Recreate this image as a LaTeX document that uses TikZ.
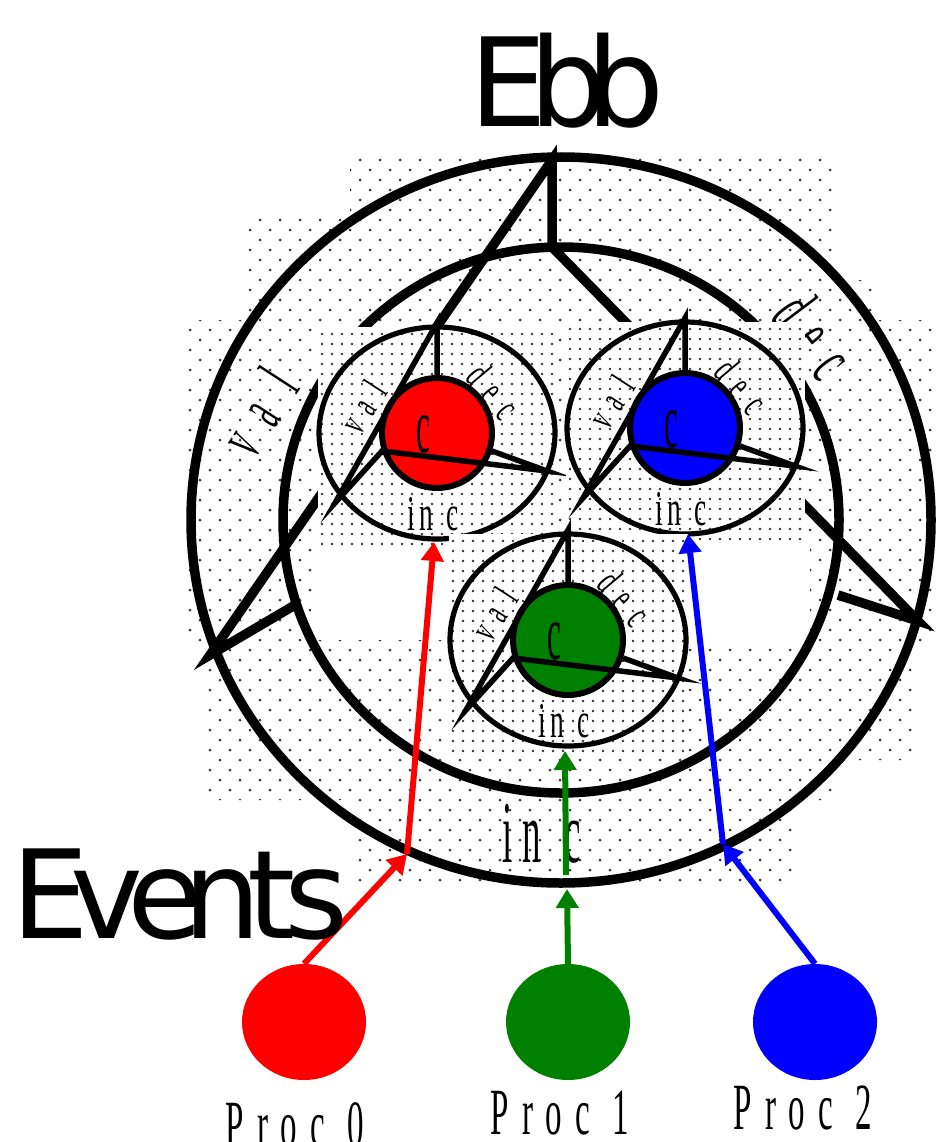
\documentclass[tikz,border=0pt]{standalone}
\usepackage{fontspec}
\setmainfont{Liberation Serif}
\newfontfamily\sansf{DejaVu Sans}
\usetikzlibrary{arrows.meta,shapes.geometric}

% staggered dot grid: x0,y0,x1,y1,dx,dy,r
\newcommand\dotgrid[7]{%
  \pgfmathtruncatemacro\dgrows{(#4-#2)/#6}%
  \pgfmathtruncatemacro\dgcols{(#3-#1)/#5}%
  \fill[dotc] \foreach \j in {0,...,\dgrows}{ \foreach \i in {0,...,\dgcols}{ ({#1+mod(\j,2)*#5/2+\i*#5},{#2+\j*#6}) circle[radius=#7] } };%
}
% square dot grid: x0,y0,x1,y1,d,r
\newcommand\dotsquare[6]{%
  \pgfmathtruncatemacro\dgrows{(#4-#2)/#5}%
  \pgfmathtruncatemacro\dgcols{(#3-#1)/#5}%
  \fill[dotc] \foreach \j in {0,...,\dgrows}{ \foreach \i in {0,...,\dgcols}{ ({#1+\i*#5},{#2+\j*#5}) circle[radius=#6] } };%
}

\tikzset{
  dotc/.style={fill=black!80},
  bigline/.style={line width=9.5pt},
  symline/.style={line width=5.5pt, line join=miter, miter limit=30},
  arr/.style={line width=6pt, -{Triangle[length=19pt,width=22pt]}},
  lbl/.style={inner sep=0pt, outer sep=0pt},
  procdot/.style={ellipse, minimum width=124pt, minimum height=116pt, inner sep=0pt, draw=none},
}

\newcommand\ebbsym[4]{%
\begin{scope}[shift={(#2,#3)}]
  \fill[white] (-119,-106) rectangle (120,114);
  \begin{scope}
    \clip (-119,-106) rectangle (120,114);
    \dotsquare{-115}{-99}{122}{116}{10}{1.35}
  \end{scope}
  \draw[line width=5.2pt] (0,0) ellipse[x radius=118, y radius=106];
  \draw[line width=6pt, fill=#4] (0,0) circle[radius=55];
  \draw[symline] (0,-55) -- (0,-110) -- (-102,70) -- (-55,18) -- (110,38) -- (55,18);
  \node[lbl, anchor=base] (#1c) at (-14,19) {\fontsize{78}{78}\selectfont\scalebox{0.4}[1]{c}};
  \node[lbl, anchor=base] (#1inc) at (-4,97) {\fontsize{50}{50}\selectfont\scalebox{0.55}[1]{i\hspace{9pt}n\hspace{24pt}c}};
  \node[lbl, rotate=57] (#1val) at (-74,-26) {\fontsize{40}{40}\selectfont\scalebox{0.55}[1]{v\hspace{21pt}a\hspace{25.5pt}l}};
  \node[lbl, rotate=-50] (#1dec) at (57,-42) {\fontsize{42}{42}\selectfont\scalebox{0.55}[1]{d\hspace{22pt}e\hspace{23pt}c}};
\end{scope}}

\begin{document}
\begin{tikzpicture}[x=1pt,y=-1pt]
\useasboundingbox (0,0) rectangle (938,1142);

% big dotted background
\begin{scope}[even odd rule]
  \clip (350,157) -- (835,157) -- (835,280) -- (873,280) -- (873,320) -- (938,320) -- (938,645) -- (917,645) -- (917,760) -- (833,760) -- (833,800) -- (793,800) -- (793,883) -- (352,883) -- (352,800) -- (208,800) -- (208,645) -- (188,645) -- (188,320) -- (248,320) -- (248,217) -- (350,217) -- cycle
    (313,545) rectangle (450,640)
    (688,535) rectangle (810,645);
  \dotgrid{180}{160}{945}{885}{20}{10}{1.5}
\end{scope}

% big symbol
\draw[bigline] (561,520) ellipse[x radius=370, y radius=363];
\draw[bigline] (561,520) ellipse[x radius=278, y radius=273];
\draw[bigline, line join=miter, miter limit=30] (295,605) -- (210,655) -- (552,160) -- (552,247) -- (918,621) -- (838,595);

\node[lbl, rotate=57] (bval) at (258,412) {\fontsize{68}{68}\selectfont\scalebox{0.45}[1]{v\hspace{50pt}a\hspace{58pt}l}};
\node[lbl, rotate=-53] (bdec) at (815,335) {\fontsize{74}{74}\selectfont\scalebox{0.45}[1]{d\hspace{40pt}e\hspace{42pt}c}};
\node[lbl, anchor=base west] (binc) at (502,862) {\fontsize{88}{88}\selectfont\scalebox{0.42}[1]{i\hspace{25.5pt}n\hspace{53.8pt}c}};

% small symbols
\ebbsym{r}{437}{433}{red}
\ebbsym{b}{685}{428}{blue}
\ebbsym{g}{568}{640}{green!50!black}

% processes
\node[procdot, fill=red] (p0) at (304,1022) {};
\node[procdot, fill=green!50!black] (p1) at (568,1022) {};
\node[procdot, fill=blue] (p2) at (815,1022) {};

\coordinate (r1) at (407,854);
\coordinate (r2) at (434,542);
\coordinate (g1) at (567,889);
\coordinate (g1b) at (566,875);
\coordinate (g2) at (565,751);
\coordinate (b1) at (723,844);
\coordinate (b2) at (688,534);

\draw[arr, red] (p0.north) -- (r1);
\draw[arr, red] (r1) -- (r2);
\draw[arr, green!50!black] (p1.north) -- (g1);
\draw[arr, green!50!black] (g1b) -- (g2);
\draw[arr, blue] (p2.north) -- (b1);
\draw[arr, blue] (b1) -- (b2);

\node[lbl, anchor=base west] (l0) at (225,1146) {\fontsize{66}{66}\selectfont\scalebox{0.5}[1]{P\hspace{28pt}r\hspace{24pt}o\hspace{28pt}c\hspace{44pt}0}};
\node[lbl, anchor=base west] (l1) at (490,1134) {\fontsize{66}{66}\selectfont\scalebox{0.5}[1]{P\hspace{28pt}r\hspace{24pt}o\hspace{28pt}c\hspace{44pt}1}};
\node[lbl, anchor=base west] (l2) at (733,1129) {\fontsize{66}{66}\selectfont\scalebox{0.5}[1]{P\hspace{28pt}r\hspace{24pt}o\hspace{28pt}c\hspace{44pt}2}};

\node[lbl, anchor=base west] (ebb) at (469,127) {\sansf\fontsize{123}{123}\selectfont E\kern-17pt b\kern-21pt b};
\node[lbl, anchor=base west] (events) at (11,938) {\sansf\fontsize{123}{123}\selectfont E\kern-18pt v\kern-16pt e\kern-20pt n\kern-14pt t\kern-11pt s};
\end{tikzpicture}
\end{document}
